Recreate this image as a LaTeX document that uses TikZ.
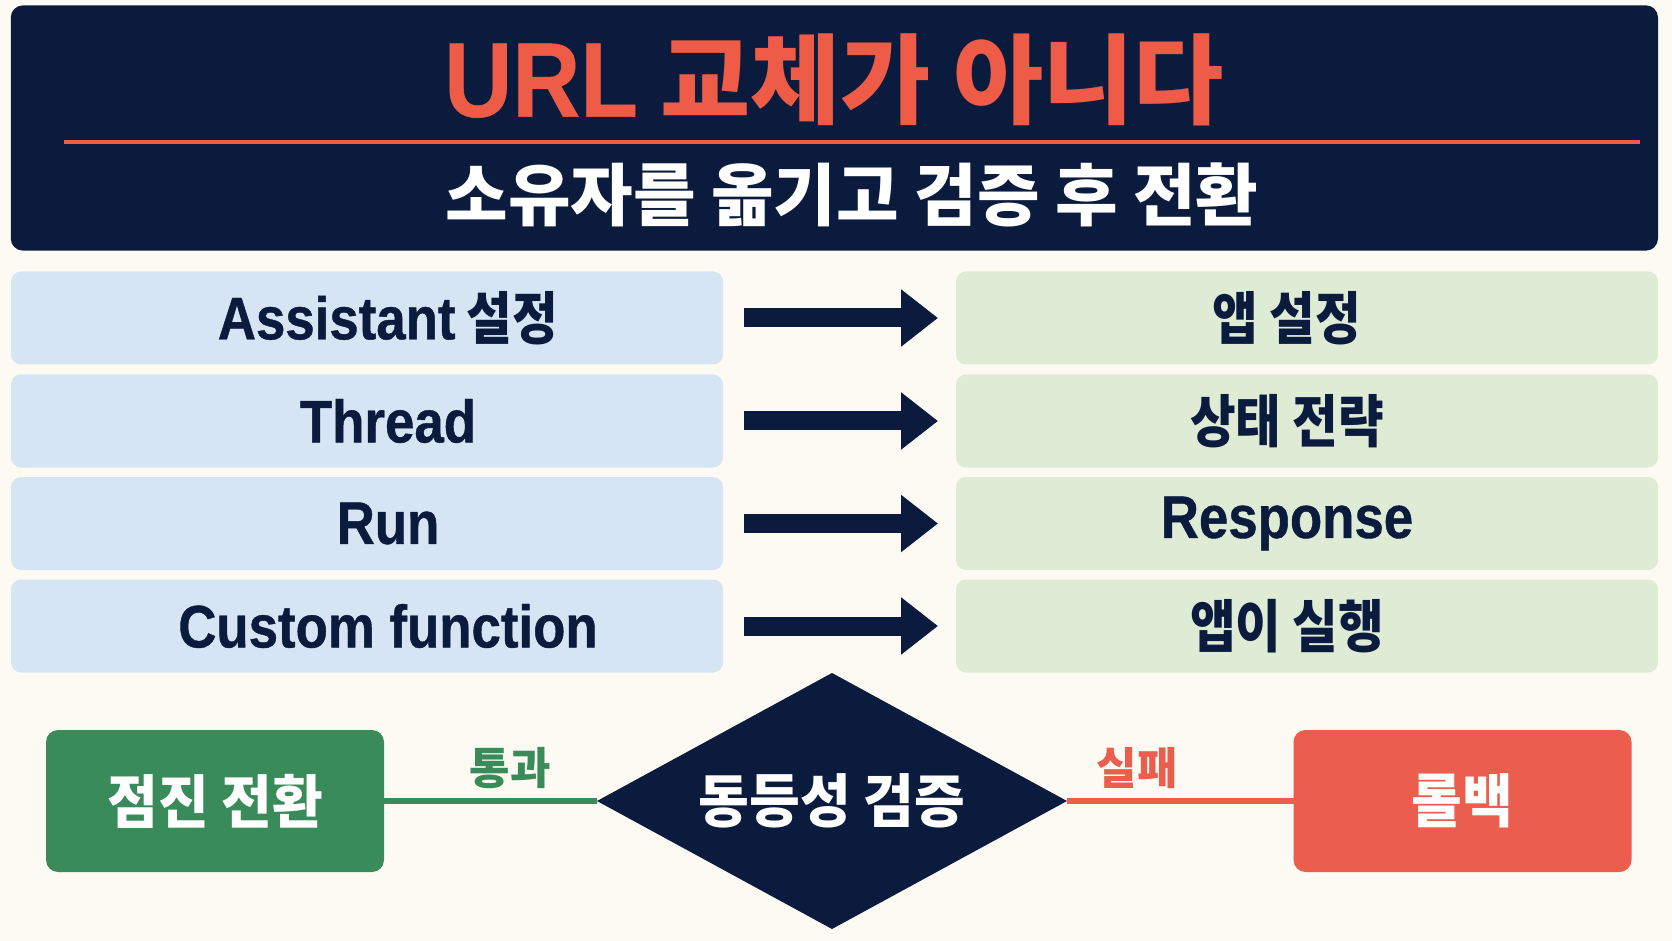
\documentclass[tikz,border=0pt]{standalone}
\usepackage{fontspec}
\setmainfont{Noto Sans CJK KR}
\newfontfamily\krc{Noto Sans CJK KR}[FakeStretch=0.87]
\newfontfamily\krb{Noto Sans CJK KR}[FakeStretch=0.95]
\newfontfamily\latc{Liberation Sans}[FakeStretch=0.88,FakeBold=0.7]
\newfontfamily\latt{Liberation Sans}[FakeStretch=0.89,FakeBold=0.5]
\usetikzlibrary{shapes.geometric,arrows.meta}
\definecolor{bgc}{HTML}{FCFAF2}
\definecolor{navy}{HTML}{0B1B3D}
\definecolor{titlered}{HTML}{EE5B46}
\definecolor{lblue}{HTML}{D6E5F3}
\definecolor{lgreen}{HTML}{DEEBD5}
\definecolor{okgreen}{HTML}{3A8B5A}
\definecolor{failred}{HTML}{EB5E4E}
\newcommand\lt[1]{{\latc\fontsize{30}{36}\selectfont #1}}
\tikzset{
  leftbox/.style={rectangle, rounded corners=5pt, fill=lblue, minimum width=356pt, minimum height=46.5pt, inner sep=0pt, outer sep=0pt},
  rightbox/.style={rectangle, rounded corners=5pt, fill=lgreen, minimum width=351pt, minimum height=46.5pt, inner sep=0pt, outer sep=0pt},
  rowtext/.style={text=navy, font=\krc\bfseries\fontsize{28.5}{34}\selectfont, inner sep=0pt},
  bigarrow/.style={draw=navy, line width=9.5pt, -{Triangle[length=18.5pt,width=27.5pt]}, shorten <=10.5pt, shorten >=9pt},
  outbox/.style={rectangle, rounded corners=6pt, minimum width=169pt, minimum height=71pt, inner sep=0pt, outer sep=0pt, text=white, font=\krb\bfseries\fontsize{29}{34}\selectfont},
  lbl/.style={font=\bfseries\fontsize{22}{26}\selectfont, inner sep=0pt}
}
\begin{document}
\begin{tikzpicture}[x=0.5pt,y=-0.5pt]
\fill[bgc] (0,0) rectangle (1672,941);
\useasboundingbox (0,0) rectangle (1672,941);
% title bar
\node[rectangle, rounded corners=6pt, fill=navy, minimum width=823.6pt, minimum height=122.6pt, inner sep=0pt] (bar) at (834.4,128) {};
\node[text=titlered, font=\bfseries\fontsize{49}{56}\selectfont, inner sep=0pt] (title) at (834,80) {{\latt\fontsize{53}{60}\selectfont URL} 교체가 아니다};
\coordinate (rl1) at (64,142);
\coordinate (rl2) at (1640,142);
\draw[titlered, line width=2.2pt] (rl1) -- (rl2);
\node[text=white, font=\bfseries\fontsize{34}{40}\selectfont, inner sep=0pt] (sub) at (852,195) {소유자를 옮기고 검증 후 전환};
% rows
\foreach \i/\y/\ltx/\rtx in {1/318/\lt{Assistant} 설정/앱 설정, 2/421/\lt{Thread}/상태 전략, 3/523.5/\lt{Run}/\lt{Response}, 4/626/\lt{Custom function}/앱이 실행}{
  \node[leftbox] (l\i) at (367,\y) {};
  \node[rightbox] (r\i) at (1307,\y) {};
  \node[rowtext] (lt\i) at (388,\y) {\ltx};
  \node[rowtext] (rt\i) at (1287,\y) {\rtx};
  \draw[bigarrow] (l\i) -- (r\i);
}
% decision
\node[diamond, aspect=1.8, fill=navy, minimum width=235pt, minimum height=128pt, inner sep=0pt, outer sep=0pt, text=white, font=\krb\bfseries\fontsize{29}{34}\selectfont] (dia) at (832,801) {동등성 검증};
\node[outbox, fill=okgreen] (ok) at (215,801) {점진 전환};
\node[outbox, fill=failred] (fail) at (1462.5,801) {롤백};
\draw[okgreen, line width=2.8pt] (ok.east) -- (dia.west);
\draw[failred, line width=2.8pt] (dia.east) -- (fail.west);
\node[lbl, text=okgreen] (pass) at (510,768) {통과};
\node[lbl, text=failred] (failed) at (1137,768) {실패};
\end{tikzpicture}
\end{document}
